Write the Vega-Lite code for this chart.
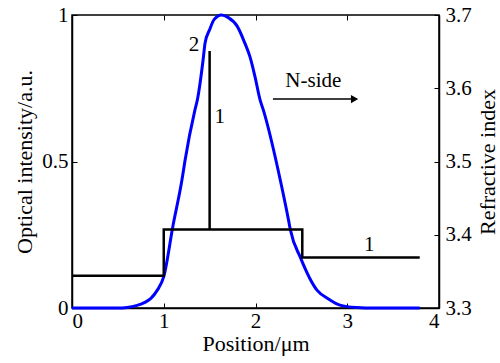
{
  "$schema": "https://vega.github.io/schema/vega-lite/v6.json",
  "width": 367,
  "height": 293,
  "autosize": "none",
  "padding": {"left": 72, "top": 15, "right": 61, "bottom": 55},
  "background": "white",
  "config": {
    "font": "Liberation Serif",
    "view": {"stroke": "black", "strokeWidth": 1.5},
    "axis": {
      "labelFont": "Liberation Serif", "titleFont": "Liberation Serif",
      "labelFontSize": 21, "titleFontSize": 22, "titleFontWeight": "normal",
      "labelColor": "black", "titleColor": "black",
      "domainColor": "black", "domainWidth": 1.5,
      "tickColor": "black", "tickWidth": 1, "tickSize": -5, "labelPadding": 9,
      "grid": false
    }
  },
  "datasets": {
    "intensity": [
      {"x": 0, "I": 0}, {"x": 0.5, "I": 0}, {"x": 0.6, "I": 0.002}, {"x": 0.7, "I": 0.008},
      {"x": 0.8, "I": 0.02}, {"x": 0.86, "I": 0.033}, {"x": 0.93, "I": 0.061}, {"x": 1.0, "I": 0.107},
      {"x": 1.1, "I": 0.28}, {"x": 1.2, "I": 0.44}, {"x": 1.23, "I": 0.5}, {"x": 1.34, "I": 0.676},
      {"x": 1.366, "I": 0.71}, {"x": 1.43, "I": 0.85}, {"x": 1.45, "I": 0.904}, {"x": 1.5, "I": 0.95},
      {"x": 1.55, "I": 0.985}, {"x": 1.63, "I": 1.0}, {"x": 1.7, "I": 0.992}, {"x": 1.8, "I": 0.962},
      {"x": 1.885, "I": 0.903}, {"x": 1.94, "I": 0.857}, {"x": 1.995, "I": 0.789}, {"x": 2.05, "I": 0.71},
      {"x": 2.085, "I": 0.676}, {"x": 2.27, "I": 0.437}, {"x": 2.36, "I": 0.3}, {"x": 2.38, "I": 0.267},
      {"x": 2.49, "I": 0.172}, {"x": 2.67, "I": 0.061}, {"x": 2.8, "I": 0.03}, {"x": 2.92, "I": 0.01},
      {"x": 3.1, "I": 0.002}, {"x": 3.3, "I": 0}, {"x": 3.79, "I": 0}
    ],
    "index": [
      {"i": 1, "x": 0, "n": 3.344}, {"i": 2, "x": 1.0, "n": 3.344}, {"i": 3, "x": 1.0, "n": 3.407},
      {"i": 4, "x": 1.5, "n": 3.407}, {"i": 5, "x": 1.5, "n": 3.651}, {"i": 6, "x": 1.5, "n": 3.407},
      {"i": 7, "x": 2.51, "n": 3.407}, {"i": 8, "x": 2.51, "n": 3.369}, {"i": 9, "x": 3.79, "n": 3.369}
    ],
    "labels": [
      {"x": 1.33, "n": 3.659, "t": "2"}, {"x": 1.61, "n": 3.561, "t": "1"}, {"x": 3.24, "n": 3.386, "t": "1"}
    ]
  },
  "layer": [
    {
      "data": {"name": "intensity"},
      "mark": {"type": "line", "color": "#0000ff", "strokeWidth": 3, "interpolate": "monotone"},
      "encoding": {
        "x": {"field": "x", "type": "quantitative", "scale": {"domain": [0, 4]},
              "axis": {"title": "Position/μm", "values": [0, 1, 2, 3, 4], "labelPadding": 7, "titlePadding": 2}},
        "y": {"field": "I", "type": "quantitative", "scale": {"domain": [0, 1]},
              "axis": {"title": "Optical intensity/a.u.", "values": [0, 0.5, 1], "format": ".1~f", "titlePadding": 5}}
      }
    },
    {
      "data": {"name": "index"},
      "mark": {"type": "line", "color": "black", "strokeWidth": 2.5},
      "encoding": {
        "x": {"field": "x", "type": "quantitative", "scale": {"domain": [0, 4]},
              "axis": {"orient": "top", "labels": false, "title": null, "values": [0, 1, 2, 3, 4], "domain": false}},
        "y": {"field": "n", "type": "quantitative", "scale": {"domain": [3.3, 3.7]},
              "axis": {"orient": "right", "title": "Refractive index", "titleAngle": 270, "titleBaseline": "top", "values": [3.3, 3.4, 3.5, 3.6, 3.7], "format": ".1f", "labelPadding": 11, "titlePadding": 6}},
        "order": {"field": "i", "type": "quantitative"}
      }
    },
    {
      "data": {"name": "labels"},
      "mark": {"type": "text", "fontSize": 21, "color": "black", "font": "Liberation Serif"},
      "encoding": {
        "x": {"field": "x", "type": "quantitative", "scale": {"domain": [0, 4]}, "axis": null},
        "y": {"field": "n", "type": "quantitative", "scale": {"domain": [3.3, 3.7]}, "axis": null},
        "text": {"field": "t"}
      }
    },
    {
      "data": {"values": [{"x": 2.63, "y": 0.775, "t": "N-side"}]},
      "mark": {"type": "text", "fontSize": 21, "color": "black", "font": "Liberation Serif"},
      "encoding": {
        "x": {"field": "x", "type": "quantitative", "scale": {"domain": [0, 4]}, "axis": null},
        "y": {"field": "y", "type": "quantitative", "scale": {"domain": [0, 1]}, "axis": null},
        "text": {"field": "t"}
      }
    },
    {
      "data": {"values": [{"x": 2.19, "x2": 3.05, "y": 0.713}]},
      "mark": {"type": "rule", "color": "black", "strokeWidth": 1.5},
      "encoding": {
        "x": {"field": "x", "type": "quantitative", "scale": {"domain": [0, 4]}, "axis": null},
        "x2": {"field": "x2"},
        "y": {"field": "y", "type": "quantitative", "scale": {"domain": [0, 1]}, "axis": null}
      }
    },
    {
      "data": {"values": [{"x": 3.08, "y": 0.713}]},
      "mark": {"type": "point", "shape": "triangle-right", "filled": true, "color": "black", "opacity": 1, "size": 70},
      "encoding": {
        "x": {"field": "x", "type": "quantitative", "scale": {"domain": [0, 4]}, "axis": null},
        "y": {"field": "y", "type": "quantitative", "scale": {"domain": [0, 1]}, "axis": null}
      }
    }
  ],
  "resolve": {"scale": {"y": "independent"}, "axis": {"x": "independent", "y": "independent"}}
}
